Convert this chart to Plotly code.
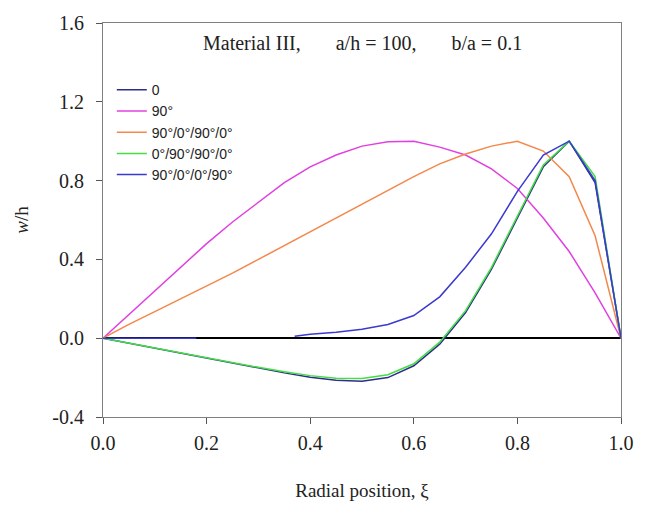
import plotly.graph_objects as go

# Radial positions (xi) and normalised deflection w/h for each layup
xi = [0.0, 0.05, 0.1, 0.15, 0.2, 0.25, 0.3, 0.35, 0.4, 0.45, 0.5,
      0.55, 0.6, 0.65, 0.7, 0.75, 0.8, 0.85, 0.9, 0.95, 1.0]

w_0 = [0.0, -0.025, -0.05, -0.075, -0.102, -0.128, -0.152, -0.176, -0.198, -0.213, -0.218,
       -0.2, -0.14, -0.03, 0.13, 0.35, 0.61, 0.87, 1.0, 0.79, 0.0]
w_90 = [0.0, 0.12, 0.245, 0.365, 0.48, 0.59, 0.69, 0.79, 0.87, 0.93, 0.975,
        0.997, 1.0, 0.97, 0.93, 0.86, 0.76, 0.61, 0.44, 0.23, 0.0]
w_90_0_90_0 = [0.0, 0.07, 0.135, 0.2, 0.265, 0.33, 0.40, 0.47, 0.54, 0.61, 0.68,
               0.75, 0.82, 0.885, 0.935, 0.975, 1.0, 0.95, 0.82, 0.52, 0.0]
w_0_90_90_0 = [0.0, -0.025, -0.05, -0.075, -0.1, -0.125, -0.148, -0.17, -0.19, -0.203, -0.205,
               -0.185, -0.13, -0.02, 0.14, 0.36, 0.62, 0.88, 1.0, 0.82, 0.0]

xi_b = [0.0, 0.18, None, 0.37, 0.4, 0.45, 0.5, 0.55, 0.6, 0.65, 0.7, 0.75, 0.8, 0.85, 0.9, 0.95, 1.0]
w_90_0_0_90 = [0.0, 0.0, None, 0.01, 0.02, 0.03, 0.045, 0.07, 0.115, 0.21, 0.36, 0.53, 0.745, 0.93, 1.0, 0.80, 0.0]

x_ticks = [0.0, 0.2, 0.4, 0.6, 0.8, 1.0]
x_ticktext = ["0.0", "0.2", "0.4", "0.6", "0.8", "1.0"]
y_ticks = [-0.4, 0.0, 0.4, 0.8, 1.2, 1.6]
y_ticktext = ["-0.4", "0.0", "0.4", "0.8", "1.2", "1.6"]

series = [
    ("0", xi, w_0, "#2e2e8a"),
    ("90°", xi, w_90, "#e040e0"),
    ("90°/0°/90°/0°", xi, w_90_0_90_0, "#f4874a"),
    ("0°/90°/90°/0°", xi, w_0_90_90_0, "#44dd44"),
    ("90°/0°/0°/90°", xi_b, w_90_0_0_90, "#3a3ad0"),
]

fig = go.Figure()
for name, x, y, color in series:
    fig.add_trace(go.Scatter(x=x, y=y, name=name, mode="lines",
                             line=dict(color=color, width=1.5),
                             connectgaps=False))

serif = "Liberation Serif, Times New Roman, serif"
axis_common = dict(showgrid=False, ticks="outside", ticklen=6, tickwidth=1,
                   tickcolor="#555555", showline=True, linecolor="#808080",
                   linewidth=1, mirror=True,
                   tickfont=dict(family=serif, size=20, color="#222222"))

fig.update_xaxes(range=[0, 1], tickvals=x_ticks, ticktext=x_ticktext,
                 zeroline=False, ticklabelstandoff=2,
                 title=dict(text="Radial position, ξ",
                            font=dict(family=serif, size=19, color="#222222"),
                            standoff=30),
                 **axis_common)
fig.update_yaxes(range=[-0.4, 1.6], tickvals=y_ticks, ticktext=y_ticktext,
                 zeroline=True, zerolinecolor="#000000", zerolinewidth=1.5,
                 ticklabelstandoff=8,
                 title=dict(text="<i>w</i>/h",
                            font=dict(family=serif, size=19, color="#222222"),
                            standoff=18),
                 **axis_common)

gap = "&nbsp;" * 6
fig.add_annotation(xref="paper", yref="paper", x=0.5, y=0.95,
                   text=f"Material III,{gap} a/h = 100,{gap} b/a = 0.1",
                   showarrow=False, xanchor="center", yanchor="middle",
                   font=dict(family=serif, size=20, color="#222222"))

fig.update_layout(
    width=646, height=509,
    margin=dict(l=103, r=23, t=16, b=92),
    plot_bgcolor="white", paper_bgcolor="white",
    showlegend=True,
    legend=dict(x=0.017, y=0.87, xanchor="left", yanchor="top",
                bgcolor="rgba(0,0,0,0)", borderwidth=0,
                font=dict(family="Liberation Sans, Arial, sans-serif", size=14, color="#222222"),
                tracegroupgap=0, itemwidth=30),
)

fig.write_html("out.html")
